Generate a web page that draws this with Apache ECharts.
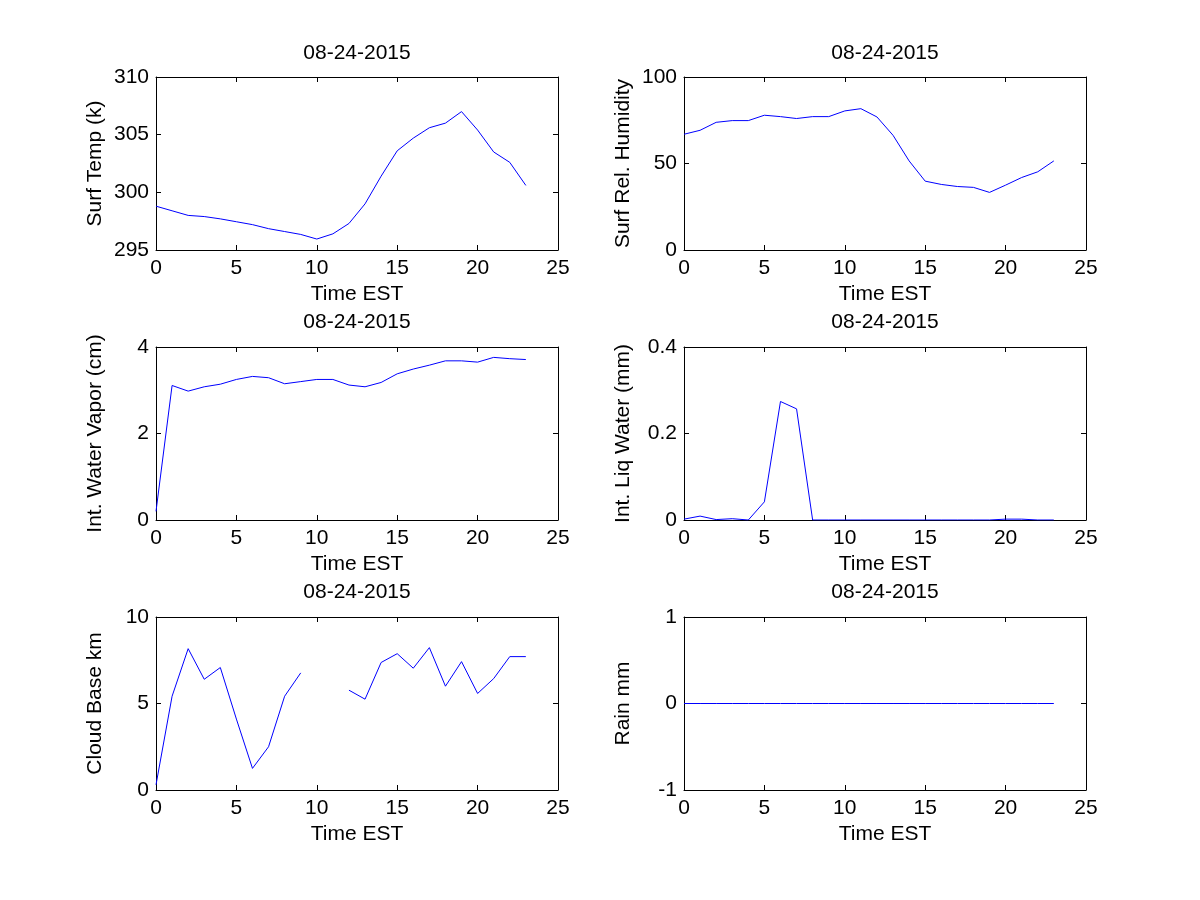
<!DOCTYPE html>
<html lang="en">
<head>
<meta charset="UTF-8">
<script src="https://cdn.jsdelivr.net/npm/echarts@6/dist/echarts.min.js"></script>
<title>08-24-2015</title>
<style>
  body { margin: 0; padding: 0; background: #fff; }
  #chart { width: 1200px; height: 900px; }
</style>
</head>
<body>
<div id="chart"></div>
<script>
  // hours 0..23 (Time EST)
  const hours = [0, 1, 2, 3, 4, 5, 6, 7, 8, 9, 10, 11, 12, 13, 14, 15, 16, 17, 18, 19, 20, 21, 22, 23];

  const surfTemp = [298.8, 298.4, 298.0, 297.9, 297.7, 297.45, 297.2, 296.85, 296.6, 296.35, 295.95, 296.4,
                    297.3, 299.0, 301.4, 303.6, 304.7, 305.6, 306.0, 307.0, 305.4, 303.5, 302.6, 300.6];
  const surfRH = [66.9, 69.2, 73.8, 74.8, 74.8, 77.9, 77.1, 76.0, 77.1, 77.1, 80.4, 81.7,
                  76.9, 66.3, 51.5, 39.8, 37.9, 36.7, 36.2, 33.3, 37.5, 41.9, 45.2, 51.5];
  const waterVapor = [0.2, 3.11, 2.98, 3.08, 3.14, 3.25, 3.32, 3.29, 3.15, 3.2, 3.25, 3.25,
                      3.12, 3.08, 3.18, 3.38, 3.49, 3.58, 3.68, 3.68, 3.65, 3.76, 3.73, 3.71];
  const liqWater = [0.002, 0.009, 0.001, 0.003, 0, 0.042, 0.274, 0.257, 0, 0, 0, 0,
                    0, 0, 0, 0, 0, 0, 0, 0, 0.002, 0.002, 0, 0];
  const cloudBase = [0.3, 5.42, 8.17, 6.4, 7.08, 4.1, 1.25, 2.5, 5.42, 6.77, null, null,
                     5.77, 5.25, 7.37, 7.88, 7.04, 8.23, 6.0, 7.42, 5.58, 6.44, 7.71, 7.71];
  const rain = [0, 0, 0, 0, 0, 0, 0, 0, 0, 0, 0, 0,
                0, 0, 0, 0, 0, 0, 0, 0, 0, 0, 0, 0];

  const dateLabel = '08-24-2015';
  const xName = 'Time EST';

  // one entry per subplot, row by row
  const panels = [
    { name: 'Surf Temp (k)',         data: surfTemp,   min: 295, max: 310, step: 5 },
    { name: 'Surf Rel. Humidity',    data: surfRH,     min: 0,   max: 100, step: 50 },
    { name: 'Int. Water Vapor (cm)', data: waterVapor, min: 0,   max: 4,   step: 2 },
    { name: 'Int. Liq Water (mm)',   data: liqWater,   min: 0,   max: 0.4, step: 0.2 },
    { name: 'Cloud Base km',         data: cloudBase,  min: 0,   max: 10,  step: 5 },
    { name: 'Rain mm',               data: rain,       min: -1,  max: 1,   step: 1 }
  ];

  const font = "'Liberation Sans', Arial, sans-serif";
  const fontSize = 21;
  const colLeft = [156, 684];
  const rowTop = [77, 347, 617];
  const plotW = 402;
  const plotH = 173;
  const titleY = [53, 322, 592];

  const chart = echarts.init(document.getElementById('chart'));

  const grids = [], xAxes = [], yAxes = [], series = [], graphics = [];

  const lineStyle = { color: '#000', width: 1 };
  const tickStyle = { show: true, inside: true, length: 5, lineStyle: { color: '#000', width: 1 } };

  panels.forEach(function (p, i) {
    const col = i % 2, row = Math.floor(i / 2);
    grids.push({ left: colLeft[col], top: rowTop[row], width: plotW, height: plotH, containLabel: false });

    // bottom x axis with labels, top x axis for the box
    xAxes.push({
      type: 'value', gridIndex: i, min: 0, max: 25, interval: 5, position: 'bottom',
      name: xName, nameLocation: 'middle', nameGap: 34,
      nameTextStyle: { color: '#000', fontSize: fontSize, fontFamily: font },
      axisLine: { show: true, onZero: false, lineStyle: lineStyle },
      axisTick: tickStyle,
      axisLabel: { color: '#000', fontSize: fontSize, fontFamily: font, margin: 8 },
      splitLine: { show: false }
    });
    xAxes.push({
      type: 'value', gridIndex: i, min: 0, max: 25, interval: 5, position: 'top',
      axisLine: { show: true, onZero: false, lineStyle: lineStyle },
      axisTick: tickStyle,
      axisLabel: { show: false },
      splitLine: { show: false }
    });

    yAxes.push({
      type: 'value', gridIndex: i, min: p.min, max: p.max, interval: p.step, position: 'left',
      name: p.name, nameLocation: 'middle', nameGap: 50, nameRotate: 90,
      nameTextStyle: { color: '#000', fontSize: fontSize, fontFamily: font },
      axisLine: { show: true, onZero: false, lineStyle: lineStyle },
      axisTick: tickStyle,
      axisLabel: { color: '#000', fontSize: fontSize, fontFamily: font, margin: 7 },
      splitLine: { show: false }
    });
    yAxes.push({
      type: 'value', gridIndex: i, min: p.min, max: p.max, interval: p.step, position: 'right',
      axisLine: { show: true, onZero: false, lineStyle: lineStyle },
      axisTick: tickStyle,
      axisLabel: { show: false },
      splitLine: { show: false }
    });

    series.push({
      type: 'line',
      xAxisIndex: i * 2,
      yAxisIndex: i * 2,
      data: hours.map(function (h, k) { return [h, p.data[k]]; }),
      showSymbol: false,
      connectNulls: false,
      lineStyle: { color: '#0000ff', width: 1 },
      itemStyle: { color: '#0000ff' }
    });

    graphics.push({
      type: 'text',
      x: colLeft[col] + plotW / 2,
      y: titleY[row],
      style: {
        text: dateLabel, fill: '#000', font: fontSize + 'px ' + font,
        textAlign: 'center', textVerticalAlign: 'middle'
      }
    });
  });

  chart.setOption({
    animation: false,
    backgroundColor: '#fff',
    grid: grids,
    xAxis: xAxes,
    yAxis: yAxes,
    series: series,
    graphic: graphics
  });
</script>
</body>
</html>
